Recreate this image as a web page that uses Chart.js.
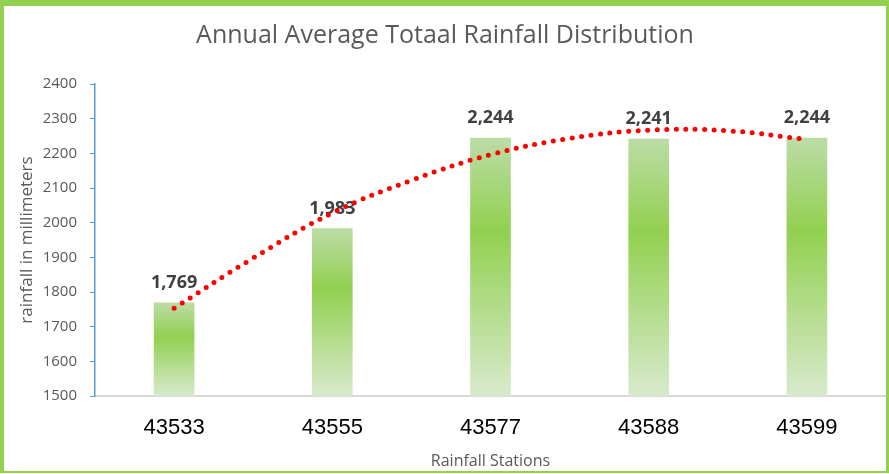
<!DOCTYPE html>
<html lang="en">
<head>
  <meta charset="UTF-8" />
  <title>Rainfall_Distribution</title>
  <script src="https://cdn.jsdelivr.net/npm/chart.js"></script>
  <style>
    body {
      margin: 0;
      background: #fff;
      overflow: hidden;
    }

    .frame {
      position: absolute;
      left: 0;
      top: 0;
      width: 889px;
      height: 473px;
      box-sizing: border-box;
      border-style: solid;
      border-color: #92d050;
      border-width: 6px 3px 2px 4px;
      background: #fff;
    }

    .chart-box {
      position: relative;
      width: 882px;
      height: 465px;
    }
  </style>
</head>
<body>

<div class="frame">
  <div class="chart-box">
    <canvas id="rain-chart"></canvas>
  </div>
</div>

<script>
// station ids on the x axis
const stations = ['43533', '43555', '43577', '43588', '43599'];
// annual average total rainfall (mm)
const rainfall = [1769, 1983, 2244, 2241, 2244];
// dotted trend line at half-station steps
const trendX = [0, 0.5, 1, 1.5, 2, 2.5, 3, 3.5, 4];
const trendY = [1753, 1898, 2028, 2122, 2196, 2243, 2267, 2265, 2240];
// y axis ticks
const yMin = 1500;
const yMax = 2400;
const yStep = 100;

const trendPoints = trendX.map((x, i) => ({ x, y: trendY[i] }));

function barFill(ctx) {
  const chart = ctx.chart;
  if (!chart.chartArea || ctx.type !== 'data') return '#92d050';
  const y = chart.scales.y;
  const top = y.getPixelForValue(ctx.raw);
  const bottom = y.getPixelForValue(yMin);
  const g = chart.ctx.createLinearGradient(0, top, 0, bottom);
  g.addColorStop(0, '#bcdca6');
  g.addColorStop(0.36, '#92d050');
  g.addColorStop(1, '#d8eacd');
  return g;
}

// value labels on top of the bars, drawn before the trend line
const barLabels = {
  id: 'barLabels',
  afterDatasetDraw(chart, args) {
    if (args.index !== 0) return;
    const ctx = chart.ctx;
    ctx.save();
    ctx.font = 'bold 18px "Open Sans", sans-serif';
    ctx.fillStyle = '#404040';
    ctx.textAlign = 'center';
    ctx.textBaseline = 'alphabetic';
    args.meta.data.forEach((bar, i) => {
      ctx.fillText(rainfall[i].toLocaleString('en-US'), bar.x, bar.y - 15);
    });
    ctx.restore();
  }
};

new Chart(document.getElementById('rain-chart'), {
  type: 'bar',
  data: {
    labels: stations,
    datasets: [
      {
        label: 'Rainfall',
        data: rainfall,
        backgroundColor: barFill,
        borderWidth: 0,
        barThickness: 40,
        grouped: false,
        order: 2
      },
      {
        type: 'line',
        label: 'Trend',
        data: trendPoints,
        xAxisID: 'xt',
        borderColor: '#ff0000',
        borderWidth: 5,
        borderDash: [0, 9.5],
        borderCapStyle: 'round',
        pointRadius: 0,
        tension: 0.4,
        fill: false,
        order: 1
      }
    ]
  },
  options: {
    responsive: true,
    maintainAspectRatio: false,
    animation: false,
    devicePixelRatio: 1,
    layout: { padding: 0 },
    plugins: {
      legend: { display: false },
      tooltip: { enabled: false },
      title: {
        display: true,
        text: 'Annual Average Totaal Rainfall Distribution',
        color: '#595959',
        font: { family: '"Open Sans", sans-serif', size: 25, weight: 'normal' },
        padding: { top: 15, bottom: 33 }
      }
    },
    scales: {
      x: {
        offset: true,
        afterFit(scale) { scale.height = 75; },
        grid: { display: false, drawTicks: false },
        border: { color: '#d9d9d9', width: 2 },
        ticks: {
          color: '#000',
          padding: 19,
          font: { family: '"Liberation Sans", Arial, sans-serif', size: 22 }
        },
        title: {
          display: true,
          text: 'Rainfall Stations',
          color: '#595959',
          font: { family: '"Open Sans", sans-serif', size: 16 },
          padding: { top: 4, bottom: 0 }
        }
      },
      xt: {
        type: 'linear',
        display: false,
        offset: false,
        min: -0.5,
        max: 4.5
      },
      y: {
        min: yMin,
        max: yMax,
        afterFit(scale) { scale.width = 91; },
        grid: {
          drawOnChartArea: false,
          color: '#5b9bd5',
          tickLength: 5
        },
        border: { color: '#5b9bd5', width: 1.5 },
        ticks: {
          stepSize: yStep,
          color: '#595959',
          padding: 13,
          font: { family: '"Open Sans", sans-serif', size: 15 },
          callback: v => String(v)
        },
        title: {
          display: true,
          text: 'rainfall in millimeters',
          color: '#595959',
          font: { family: '"Open Sans", sans-serif', size: 17 },
          padding: { top: 13, bottom: 0 }
        }
      }
    }
  },
  plugins: [barLabels]
});
</script>

</body>
</html>
